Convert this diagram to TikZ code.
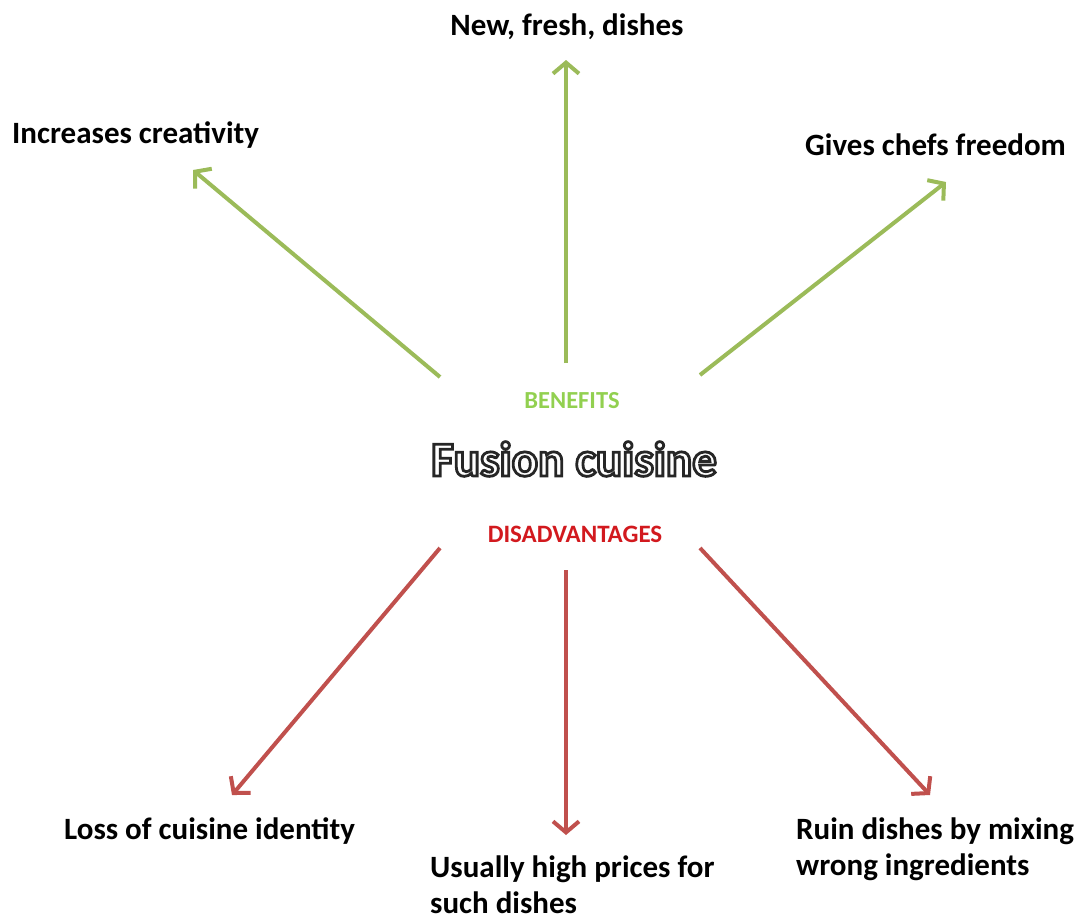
\documentclass[tikz,border=0pt]{standalone}
\usepackage{fontspec}
\setmainfont{Carlito}
\usetikzlibrary{arrows.meta}
\definecolor{bgreen}{RGB}{155,187,89}
\definecolor{bred}{RGB}{192,80,77}
\definecolor{lgreen}{RGB}{146,208,80}
\definecolor{tred}{RGB}{210,25,30}
\newcommand{\outlinetext}[1]{{\color{white}\special{pdf:literal direct 0.15 G 2 Tr 2.8 w}#1\special{pdf:literal direct 0 Tr 0 G}}}
\tikzset{
  lbl/.style={font=\bfseries\fontsize{31}{36}\selectfont, inner sep=0pt, text=black},
  garrow/.style={draw=bgreen, line width=4pt, -{Straight Barb[length=11pt,width=26pt]}},
  rarrow/.style={draw=bred, line width=4pt, -{Straight Barb[length=11pt,width=26pt]}},
}
\begin{document}
\begin{tikzpicture}[x=1pt,y=-1pt]
\useasboundingbox (0,0) rectangle (1084,921);
% centre
\node[inner sep=0pt, font=\bfseries\fontsize{49}{49}\selectfont] (title) at (574,459) {\outlinetext{Fusion cuisine}};
\node[inner sep=0pt, text=lgreen, font=\bfseries\fontsize{24.5}{25}\selectfont] (ben) at (572,401) {BENEFITS};
\node[inner sep=0pt, text=tred, font=\bfseries\fontsize{25}{25}\selectfont] (dis) at (575,534) {DISADVANTAGES};
% labels
\node[lbl] (new) at (567,27) {New, fresh, dishes};
\node[lbl, anchor=west] (inc) at (12,135) {Increases creativity};
\node[lbl, anchor=west] (giv) at (805,145) {Gives chefs freedom};
\node[lbl, anchor=west] (loss) at (64,831) {Loss of cuisine identity};
\node[lbl, anchor=north west, align=left] (price) at (430,856) {Usually high prices for\\such dishes};
\node[lbl, anchor=north west, align=left] (ruin) at (796,818) {Ruin dishes by mixing\\wrong ingredients};
% connector ends
\coordinate (s1) at (440,377); \coordinate (e1) at (193,170);
\coordinate (s2) at (566,363); \coordinate (e2) at (566,60);
\coordinate (s3) at (700,375); \coordinate (e3) at (946,182);
\coordinate (s4) at (440,548); \coordinate (e4) at (232,795);
\coordinate (s5) at (566,570); \coordinate (e5) at (566,835);
\coordinate (s6) at (700,548); \coordinate (e6) at (930,795);
\draw[garrow] (s1) -- (e1);
\draw[garrow] (s2) -- (e2);
\draw[garrow] (s3) -- (e3);
\draw[rarrow] (s4) -- (e4);
\draw[rarrow] (s5) -- (e5);
\draw[rarrow] (s6) -- (e6);
\end{tikzpicture}
\end{document}
